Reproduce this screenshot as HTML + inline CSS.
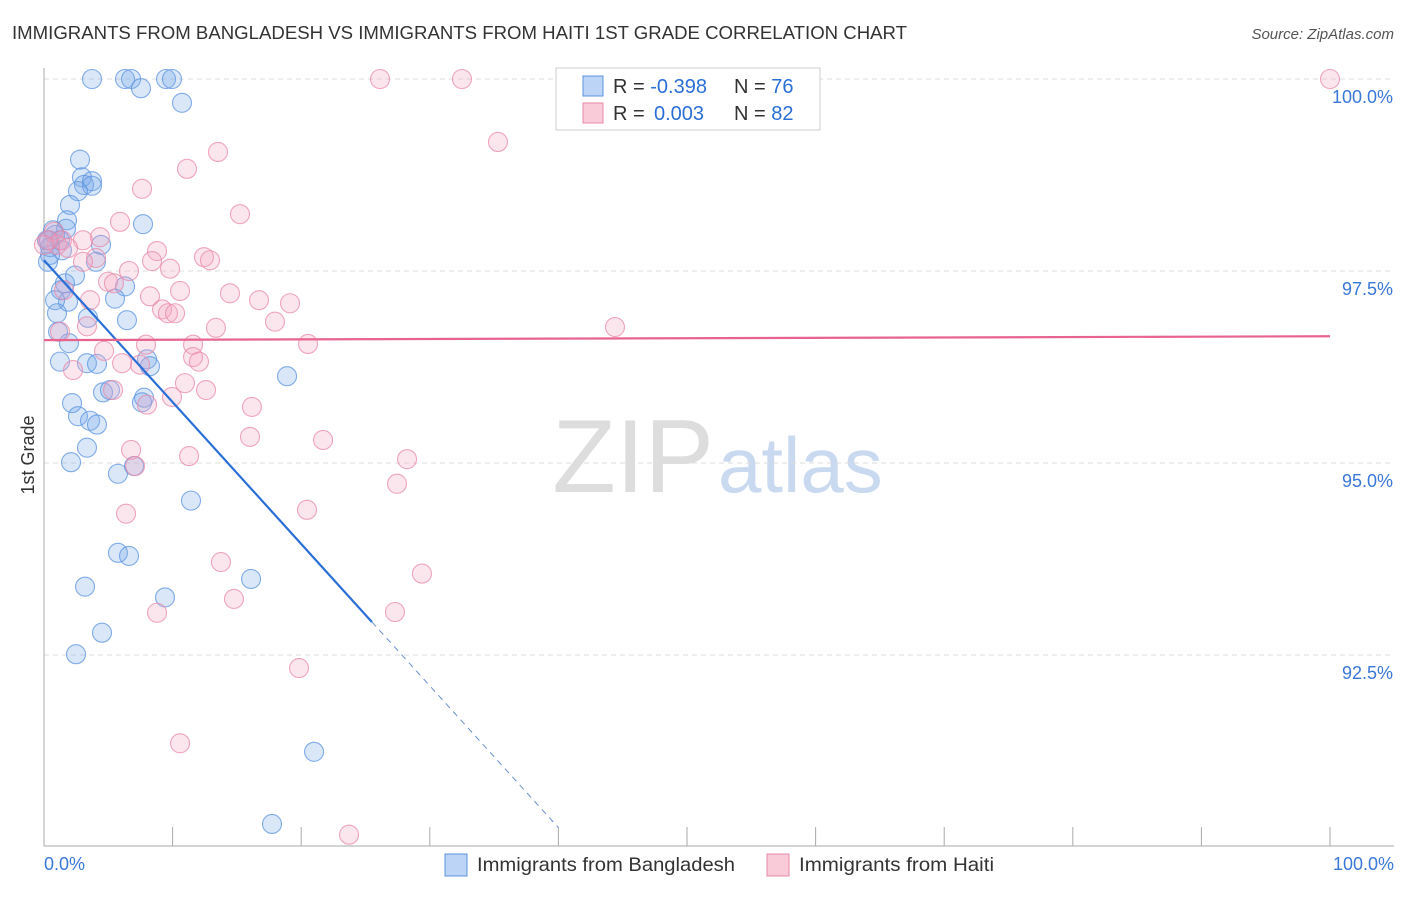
<!DOCTYPE html>
<html><head><meta charset="utf-8"><style>
body{margin:0;background:#fff;font-family:"Liberation Sans",sans-serif}
svg text{font-family:"Liberation Sans",sans-serif}
</style></head><body>
<svg id="chart" width="1406" height="892" viewBox="0 0 1406 892" xmlns="http://www.w3.org/2000/svg">
<text x="12" y="39" font-size="18" fill="#333" textLength="895" lengthAdjust="spacingAndGlyphs">IMMIGRANTS FROM BANGLADESH VS IMMIGRANTS FROM HAITI 1ST GRADE CORRELATION CHART</text>
<text x="1394" y="39" font-size="15" fill="#555" text-anchor="end" font-style="italic">Source: ZipAtlas.com</text>
<text x="714" y="492" font-size="104" text-anchor="end" fill="#ddd" font-family="Liberation Serif">ZIP</text>
<text x="718" y="492" font-size="78" fill="#c9daf0">atlas</text>
<g id="grid"></g>
<g id="axes"></g>
<g id="points"></g>
<g id="trends"></g>
<text transform="translate(34,455) rotate(-90)" font-size="18" fill="#333" text-anchor="middle">1st Grade</text>
<g>
<rect x="556" y="68" width="264" height="62" fill="#fff" stroke="#ccc"/>
<rect x="583" y="76" width="20" height="20" fill="#bcd4f5" stroke="#5b93e0"/>
<rect x="583" y="103" width="20" height="20" fill="#f9cbd9" stroke="#e88aa8"/>
<text x="613" y="93" font-size="20" fill="#333">R = <tspan fill="#2a6fd6">-0.398</tspan><tspan x="734">N = </tspan><tspan fill="#2a6fd6">76</tspan></text>
<text x="613" y="120" font-size="20" fill="#333">R = <tspan fill="#2a6fd6" x="654">0.003</tspan><tspan x="734">N = </tspan><tspan fill="#2a6fd6">82</tspan></text>
</g>
<g>
<rect x="445" y="854" width="22" height="22" fill="#bcd4f5" stroke="#5b93e0"/>
<text x="477" y="871" font-size="19.5" fill="#333" textLength="258" lengthAdjust="spacingAndGlyphs">Immigrants from Bangladesh</text>
<rect x="767" y="854" width="22" height="22" fill="#f9cbd9" stroke="#e88aa8"/>
<text x="799" y="871" font-size="19.5" fill="#333" textLength="195" lengthAdjust="spacingAndGlyphs">Immigrants from Haiti</text>
</g>
</svg>
<script>
const blueX=[3.73,6.30,6.77,9.49,9.95,7.54,10.73,2.80,2.95,3.11,3.73,3.73,2.64,2.02,1.79,7.70,1.71,0.86,0.23,0.47,4.43,1.40,0.31,4.04,6.30,1.63,2.41,1.32,1.87,0.86,5.52,6.45,1.01,3.42,1.09,1.94,3.34,1.24,4.12,8.01,8.24,4.59,5.13,7.78,7.62,2.18,2.64,3.58,4.12,18.90,3.34,2.10,5.75,7.00,11.43,5.75,6.61,3.19,9.41,16.10,4.51,2.49,21.00,17.73,0.47,0.39,0.70,1.24];
const blueY=[100,100,100,100,100,99.88,99.69,98.95,98.72,98.62,98.67,98.61,98.54,98.36,98.16,98.11,98.05,97.97,97.90,97.81,97.84,97.77,97.62,97.62,97.30,97.34,97.44,97.25,97.10,97.12,97.14,96.86,96.95,96.89,96.71,96.56,96.30,96.32,96.29,96.35,96.26,95.92,95.95,95.85,95.79,95.78,95.61,95.55,95.50,96.13,95.20,95.01,94.86,94.96,94.51,93.83,93.79,93.39,93.25,93.49,92.79,92.51,91.24,90.30,97.71,97.90,98.03,97.90];
const pinkX=[26.13,32.50,100,35.30,13.53,11.12,7.62,15.24,5.91,0.78,4.35,3.03,8.79,4.04,8.40,9.80,12.44,12.91,6.61,3.03,4.98,5.44,10.58,1.56,14.46,16.72,19.13,8.24,9.18,9.64,10.19,3.58,13.37,17.96,1.24,3.34,20.53,11.59,7.93,11.59,12.05,4.67,6.07,7.47,2.26,10.96,12.60,9.95,8.01,16.17,5.37,16.02,21.70,6.77,11.28,28.23,27.45,7.08,44.40,6.38,20.45,13.76,29.39,14.77,8.79,27.29,19.83,10.58,23.72,1.01,1.40,0.31,0,1.87];
const pinkY=[100,100,100,99.18,99.05,98.83,98.57,98.24,98.14,98.01,97.94,97.90,97.76,97.67,97.63,97.53,97.68,97.64,97.50,97.62,97.36,97.34,97.24,97.25,97.21,97.12,97.08,97.17,97.00,96.95,96.95,97.12,96.76,96.84,96.71,96.78,96.55,96.54,96.54,96.38,96.32,96.46,96.30,96.28,96.21,96.04,95.95,95.86,95.76,95.73,95.95,95.34,95.30,95.17,95.09,95.05,94.73,94.96,96.77,94.34,94.39,93.71,93.56,93.23,93.05,93.06,92.33,91.35,90.16,97.84,97.90,97.90,97.84,97.80];
const yTicks=[100,97.5,95,92.5];
const yTickLabels=["100.0%","97.5%","95.0%","92.5%"];
const xTickLabels=["0.0%","100.0%"];
const blueTrend=[97.64,-0.1847]; // intercept, slope
const pinkTrend=[96.60,0.0005];

const NS="http://www.w3.org/2000/svg";
const X0=44,X1=1330,YTOP=79;
const sx=v=>X0+(v/100)*(X1-X0);
const sy=v=>YTOP+(100-v)/2.5*192;
function mk(tag,attrs,parent){const e=document.createElementNS(NS,tag);for(const k in attrs)e.setAttribute(k,attrs[k]);parent.appendChild(e);return e;}
const grid=document.getElementById('grid'),axes=document.getElementById('axes'),pts=document.getElementById('points'),tr=document.getElementById('trends');
yTicks.forEach((t,i)=>{
  const l=mk('line',{x1:44,x2:1394,y1:sy(t),y2:sy(t),stroke:'#ddd','stroke-dasharray':'5,4'},grid);
  
  
  const tx=mk('text',{x:1393,y:sy(t)+24,'font-size':18,fill:'#3a78d8','text-anchor':'end'},axes);
  tx.textContent=yTickLabels[i];
  
  
});
const ax=mk('line',{x1:44,x2:44,y1:68,y2:846,stroke:'#aaa'},axes);


const bx=mk('line',{x1:44,x2:1394,y1:846,y2:846,stroke:'#aaa'},axes);


for(let i=1;i<=10;i++){
  const t=mk('line',{x1:sx(i*10),x2:sx(i*10),y1:827,y2:846,stroke:'#aaa'},axes);
  
  
}
[[0,'start',44],[100,'end',1394]].forEach((d,i)=>{
  const t=mk('text',{x:d[2],y:870,'font-size':18,fill:'#3a78d8','text-anchor':d[1]},axes);
  t.textContent=xTickLabels[i];
  
  
});
function drawPts(xs,ys,fill,stroke,name){
  xs.forEach((x,i)=>{
    const c=mk('circle',{cx:sx(x),cy:sy(ys[i]),r:9.5,fill:fill,stroke:stroke,'stroke-width':1.1,'stroke-opacity':0.75},pts);
    
    
  });
}
drawPts(blueX,blueY,'rgba(120,168,235,0.28)','#5b93e0','bangladesh-point');
drawPts(pinkX,pinkY,'rgba(245,165,195,0.28)','#e88aa8','haiti-point');
const bl=mk('line',{x1:sx(0),y1:sy(blueTrend[0]),x2:sx(25.5),y2:sy(blueTrend[0]+blueTrend[1]*25.5),stroke:'#2a6fd6','stroke-width':2.2},tr);


const bd=mk('line',{x1:sx(25.5),y1:sy(blueTrend[0]+blueTrend[1]*25.5),x2:sx(40),y2:sy(blueTrend[0]+blueTrend[1]*40),stroke:'#6a8fd0','stroke-width':1,'stroke-dasharray':'6,5'},tr);


const pl=mk('line',{x1:sx(0),y1:sy(pinkTrend[0]),x2:sx(100),y2:sy(pinkTrend[0]+pinkTrend[1]*100),stroke:'#e8648f','stroke-width':2.2},tr);


</script>
</body></html>
